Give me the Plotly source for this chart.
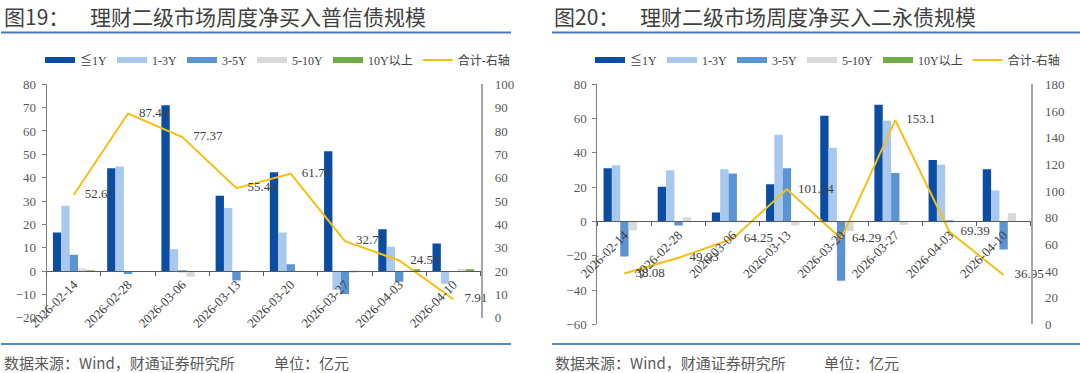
import plotly.graph_objects as go

# ---------------- data ----------------
dates = ["2026-02-14", "2026-02-28", "2026-03-06", "2026-03-13",
         "2026-03-20", "2026-03-27", "2026-04-03", "2026-04-10"]
series_names = ["≦1Y", "1-3Y", "3-5Y", "5-10Y", "10Y以上"]
total_name = "合计-右轴"

# 图19 普信债
c1_le1y = [16.5, 44.0, 71.0, 32.3, 42.3, 51.3, 17.9, 11.8]
c1_1_3y = [28.0, 44.8, 9.3, 27.0, 16.5, -8.0, 10.4, -5.5]
c1_3_5y = [7.0, -1.3, -0.4, -4.1, 2.9, -9.8, -4.6, 0.0]
c1_5_10y = [1.1, 0.0, -2.5, 0.3, 0.0, -0.7, 0.2, 1.0]
c1_10y = [0.07, 0.0, 0.0, 0.0, 0.0, 0.0, 0.6, 0.5]
c1_total = [52.67, 87.48, 77.37, 55.49, 61.74, 32.77, 24.53, 7.91]

# 图20 二永债
c2_le1y = [31.0, 20.2, 5.2, 21.7, 61.6, 68.0, 35.9, 30.5]
c2_1_3y = [32.8, 29.9, 30.5, 50.5, 43.0, 58.8, 33.0, 18.0]
c2_3_5y = [-20.5, -2.3, 28.0, 31.1, -34.6, 28.2, 0.5, -16.4]
c2_5_10y = [-5.2, 2.5, 0.5, -2.3, -5.7, -1.9, 0.0, 4.85]
c2_10y = [0.0, 0.0, 0.0, 0.0, 0.0, 0.0, 0.0, 0.0]
c2_total = [38.08, 49.93, 64.25, 101.24, 64.29, 153.1, 69.39, 36.95]

title1_no = "图19："
title1 = "理财二级市场周度净买入普信债规模"
title2_no = "图20："
title2 = "理财二级市场周度净买入二永债规模"
source_text = "数据来源：Wind，财通证券研究所"
unit_text = "单位：亿元"

# y ranges
c1_left = [-20, 80]
c1_right = [0, 100]
c2_left = [-60, 80]
c2_right = [0, 180]

# ---------------- style ----------------
W, H = 1080, 373
bar_colors = ["#0B4DA2", "#A9C8EE", "#5B94D3", "#D9D9D9", "#70AD47"]
line_color = "#F5BF14"
serif = "Liberation Serif, Times New Roman, Noto Sans CJK SC"
sans = "Noto Sans CJK SC, Microsoft YaHei, sans-serif"


def fx(px):
    return px / W


def fy(py):
    return 1 - py / H


fig = go.Figure()


def add_chart(series, total, xa, ya, ya2, legend_name):
    for name, vals, col in zip(series_names, series, bar_colors):
        fig.add_trace(go.Bar(x=dates, y=vals, name=name, marker_color=col,
                             marker_line_width=0, xaxis=xa, yaxis=ya,
                             showlegend=False, hoverinfo="x+y+name"))
    for name, col in zip(series_names, bar_colors):
        fig.add_trace(go.Scatter(x=[None], y=[None], mode="lines", name=name,
                                 line=dict(color=col, width=6), xaxis=xa, yaxis=ya,
                                 legend=legend_name, showlegend=True))
    fig.add_trace(go.Scatter(x=dates, y=total, name=total_name,
                             mode="lines+markers+text",
                             text=[str(v) for v in total],
                             textposition="middle right",
                             textfont=dict(family=serif, size=13, color="#404040"),
                             marker=dict(size=16, color="rgba(0,0,0,0)"),
                             line=dict(color=line_color, width=2),
                             xaxis=xa, yaxis=ya2, legend=legend_name,
                             cliponaxis=False))


add_chart([c1_le1y, c1_1_3y, c1_3_5y, c1_5_10y, c1_10y], c1_total, "x", "y", "y2", "legend")
add_chart([c2_le1y, c2_1_3y, c2_3_5y, c2_5_10y, c2_10y], c2_total, "x2", "y3", "y4", "legend2")

# domains (pixels -> paper)
d1x = [fx(46.7), fx(480.5)]
d1y = [fy(317.7), fy(84.3)]
d2x = [fx(597.3), fx(1030.7)]
d2y = [fy(324.3), fy(84.3)]


def zero_pos(dom, rng):
    f = (0 - rng[0]) / (rng[1] - rng[0])
    return dom[0] + f * (dom[1] - dom[0])


cat_range = [-0.5, len(dates) - 0.5]

tickfont = dict(family=serif, size=13, color="#595959")
xtickfont = dict(family=serif, size=13, color="#404040")

xcommon = dict(type="category", tickangle=-45, showline=True, linecolor="#595959",
               linewidth=1, ticks="outside", ticklen=4, tickcolor="#595959",
               tickson="boundaries", showgrid=False, zeroline=False,
               tickfont=xtickfont, anchor="free", fixedrange=True,
               range=cat_range, autorange=False, automargin=False)
yleft = dict(showline=True, linecolor="#7F7F7F", linewidth=1, ticks="outside",
             ticklen=4, tickcolor="#7F7F7F", showgrid=False, zeroline=False,
             tickfont=tickfont, ticklabelstandoff=3, automargin=False)
yright = dict(showline=True, linecolor="#A6A6A6", linewidth=1.5, ticks="",
              showgrid=False, zeroline=False, tickfont=tickfont,
              ticklabelstandoff=10, side="right", automargin=False)

legend_common = dict(orientation="h", xanchor="left", y=fy(60), yanchor="middle",
                     font=dict(family=serif, size=12, color="#404040"),
                     bgcolor="rgba(0,0,0,0)", itemwidth=30, tracegroupgap=0)

fig.update_layout(
    template="none",
    width=W, height=H, autosize=False,
    margin=dict(l=0, r=0, t=0, b=0, pad=0, autoexpand=False),
    paper_bgcolor="white", plot_bgcolor="white",
    barmode="group", bargap=0.23, bargroupgap=0,
    xaxis=dict(domain=d1x, position=zero_pos(d1y, c1_left), **xcommon),
    yaxis=dict(domain=d1y, range=c1_left, dtick=10, anchor="x", **yleft),
    yaxis2=dict(domain=d1y, range=c1_right, dtick=10, anchor="x", overlaying="y", **yright),
    xaxis2=dict(domain=d2x, position=zero_pos(d2y, c2_left), **xcommon),
    yaxis3=dict(domain=d2y, range=c2_left, dtick=20, anchor="x2", **yleft),
    yaxis4=dict(domain=d2y, range=c2_right, dtick=20, anchor="x2", overlaying="y3", **yright),
    legend=dict(x=fx(40), **legend_common),
    legend2=dict(x=fx(590), **legend_common),
    showlegend=True,
)

annots = []
for txt, xp in [(title1_no, 2), (title1, 88), (title2_no, 552), (title2, 638)]:
    annots.append(dict(text=txt, x=fx(xp), y=fy(16), xref="paper", yref="paper",
                       xanchor="left", yanchor="middle", showarrow=False,
                       font=dict(family=sans, size=21, color="#3F3F3F")))
for txt, xp in [(source_text, 2), (unit_text, 272), (source_text, 553), (unit_text, 822)]:
    annots.append(dict(text=txt, x=fx(xp), y=fy(362), xref="paper", yref="paper",
                       xanchor="left", yanchor="middle", showarrow=False,
                       font=dict(family=sans, size=15, color="#595959")))
fig.update_layout(annotations=annots)

shapes = []
for x0, x1 in [(1, 511), (552, 1080)]:
    shapes.append(dict(type="line", xref="paper", yref="paper", x0=fx(x0), x1=fx(x1),
                       y0=fy(32.5), y1=fy(32.5), line=dict(color="#4A78B8", width=2)))
    shapes.append(dict(type="line", xref="paper", yref="paper", x0=fx(x0), x1=fx(x1),
                       y0=fy(344), y1=fy(344), line=dict(color="#2462B0", width=1.5)))
fig.update_layout(shapes=shapes)

fig.write_html("out.html",
               config={"displayModeBar": False},
               post_script="document.body.style.margin='0';document.body.style.overflow='hidden';")
